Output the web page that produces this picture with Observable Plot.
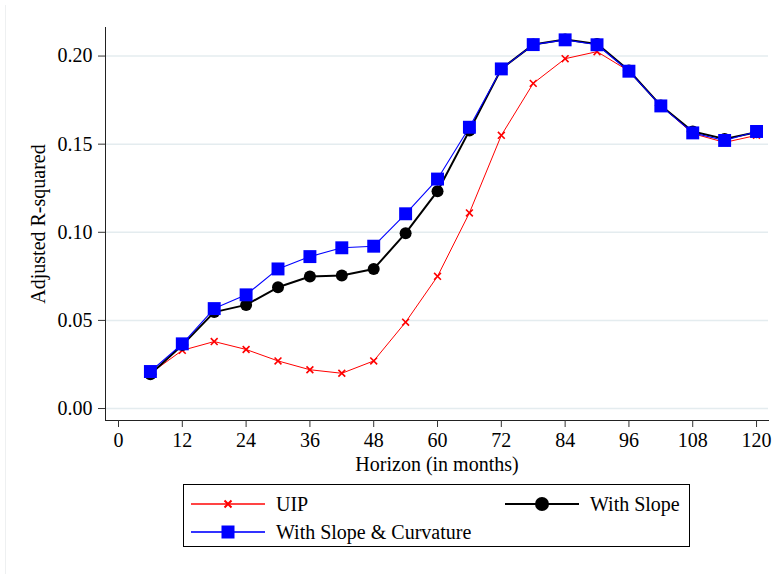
<!DOCTYPE html>
<html>
<head>
<meta charset="utf-8">
<script src="https://cdn.jsdelivr.net/npm/d3@7"></script>
<script src="https://cdn.jsdelivr.net/npm/@observablehq/plot@0.6"></script>
<style>
  html, body { margin: 0; padding: 0; background: #fff; }
  #wrap { position: relative; width: 772px; height: 574px; font-family: "Liberation Serif", "DejaVu Serif", serif; }
  #edge { position: absolute; left: 5px; top: 5px; bottom: 0; border-left: 1px solid #eef0f1; }
  #legend { position: absolute; left: 183px; top: 484px; width: 507px; height: 63px; border: 1px solid #000; box-sizing: border-box; }
  .item { position: absolute; height: 24px; display: flex; align-items: center; font-size: 20px; color: #000; white-space: nowrap; }
  .item svg { display: block; margin-right: 11px; }
</style>
</head>
<body>
<div id="wrap"><div id="edge"></div><div id="chart"></div><div id="legend"></div></div>
<script>
// ---- data ----
const horizon = [6, 12, 18, 24, 30, 36, 42, 48, 54, 60, 66, 72, 78, 84, 90, 96, 102, 108, 114, 120];
const uip = [0.020, 0.033, 0.038, 0.0335, 0.027, 0.022, 0.020, 0.027, 0.049, 0.075, 0.111, 0.155, 0.1845, 0.1985, 0.2025, 0.1915, 0.172, 0.156, 0.151, 0.155];
const withSlope = [0.0195, 0.036, 0.0547, 0.0588, 0.0688, 0.0749, 0.0755, 0.0792, 0.0995, 0.1233, 0.1577, 0.1927, 0.2065, 0.2094, 0.2069, 0.1918, 0.1719, 0.1572, 0.153, 0.1568];
const withSlopeCurv = [0.021, 0.0367, 0.0567, 0.0645, 0.0792, 0.0862, 0.0912, 0.0921, 0.1105, 0.1302, 0.1596, 0.1927, 0.2065, 0.2092, 0.2064, 0.1914, 0.1717, 0.1564, 0.1521, 0.1572];
const yTicks = [0, 0.05, 0.10, 0.15, 0.20];
const xTicks = [0, 12, 24, 36, 48, 60, 72, 84, 96, 108, 120];
const seriesNames = ["UIP", "With Slope", "With Slope & Curvature"];

const rows = (vals) => horizon.map((h, i) => ({h, v: vals[i]}));
const dUIP = rows(uip), dS = rows(withSlope), dSC = rows(withSlopeCurv);

const chart = Plot.plot({
  width: 772,
  height: 480,
  marginLeft: 105,
  marginRight: 4,
  marginTop: 27,
  marginBottom: 60,
  style: {fontFamily: "Liberation Serif, serif", fontSize: "20px", color: "#000", background: "transparent"},
  x: {domain: [-2.445, 122.25]},
  y: {domain: [-0.0068, 0.2162]},
  marks: [
    Plot.gridY(yTicks, {stroke: "#e4ecef", strokeOpacity: 1, strokeWidth: 1.5}),
    Plot.frame({anchor: "left", stroke: "#222"}),
    Plot.frame({anchor: "bottom", stroke: "#222"}),
    Plot.axisY(yTicks, {tickFormat: d3.format(".2f"), tickSize: 7, tickPadding: 6, stroke: "#333",
      label: "Adjusted R-squared", labelAnchor: "center", labelArrow: "none", labelOffset: 75}),
    Plot.axisX(xTicks, {tickSize: 7, tickPadding: 5, stroke: "#333",
      label: "Horizon (in months)", labelAnchor: "center", labelArrow: "none", labelOffset: 50}),
    Plot.line(dUIP, {x: "h", y: "v", stroke: "#ff0000", strokeWidth: 1}),
    Plot.dot(dUIP, {x: "h", y: "v", symbol: "times", r: 3.2, stroke: "#ff0000", strokeWidth: 1.6}),
    Plot.line(dS, {x: "h", y: "v", stroke: "#000", strokeWidth: 2}),
    Plot.dot(dS, {x: "h", y: "v", symbol: "circle", r: 6, fill: "#000"}),
    Plot.line(dSC, {x: "h", y: "v", stroke: "#0000ff", strokeWidth: 1.1}),
    Plot.dot(dSC, {x: "h", y: "v", symbol: "square", r: 7.3, fill: "#0000ff"})
  ]
});
document.getElementById("chart").appendChild(chart);

// legend
const legend = document.getElementById("legend");
const items = [
  {name: seriesNames[0], color: "#ff4444", marker: "times", left: 7, top: 7},
  {name: seriesNames[1], color: "#000", marker: "circle", left: 321, top: 7},
  {name: seriesNames[2], color: "#3333ff", marker: "square", left: 7, top: 35}
];
for (const it of items) {
  const div = document.createElement("div");
  div.className = "item";
  div.style.left = it.left + "px";
  div.style.top = it.top + "px";
  let m = "";
  if (it.marker === "times") m = `<path d="M33.5,8.5L40.5,15.5M40.5,8.5L33.5,15.5" stroke="#ff0000" stroke-width="2"/>`;
  if (it.marker === "circle") m = `<circle cx="37" cy="12" r="7" fill="#000"/>`;
  if (it.marker === "square") m = `<rect x="30.5" y="5.5" width="13" height="13" fill="#0000ff"/>`;
  div.innerHTML = `<svg width="74" height="24"><line x1="0" x2="74" y1="12" y2="12" stroke="${it.color}" stroke-width="2"/>${m}</svg><span>${it.name}</span>`;
  legend.appendChild(div);
}
</script>
</body>
</html>
